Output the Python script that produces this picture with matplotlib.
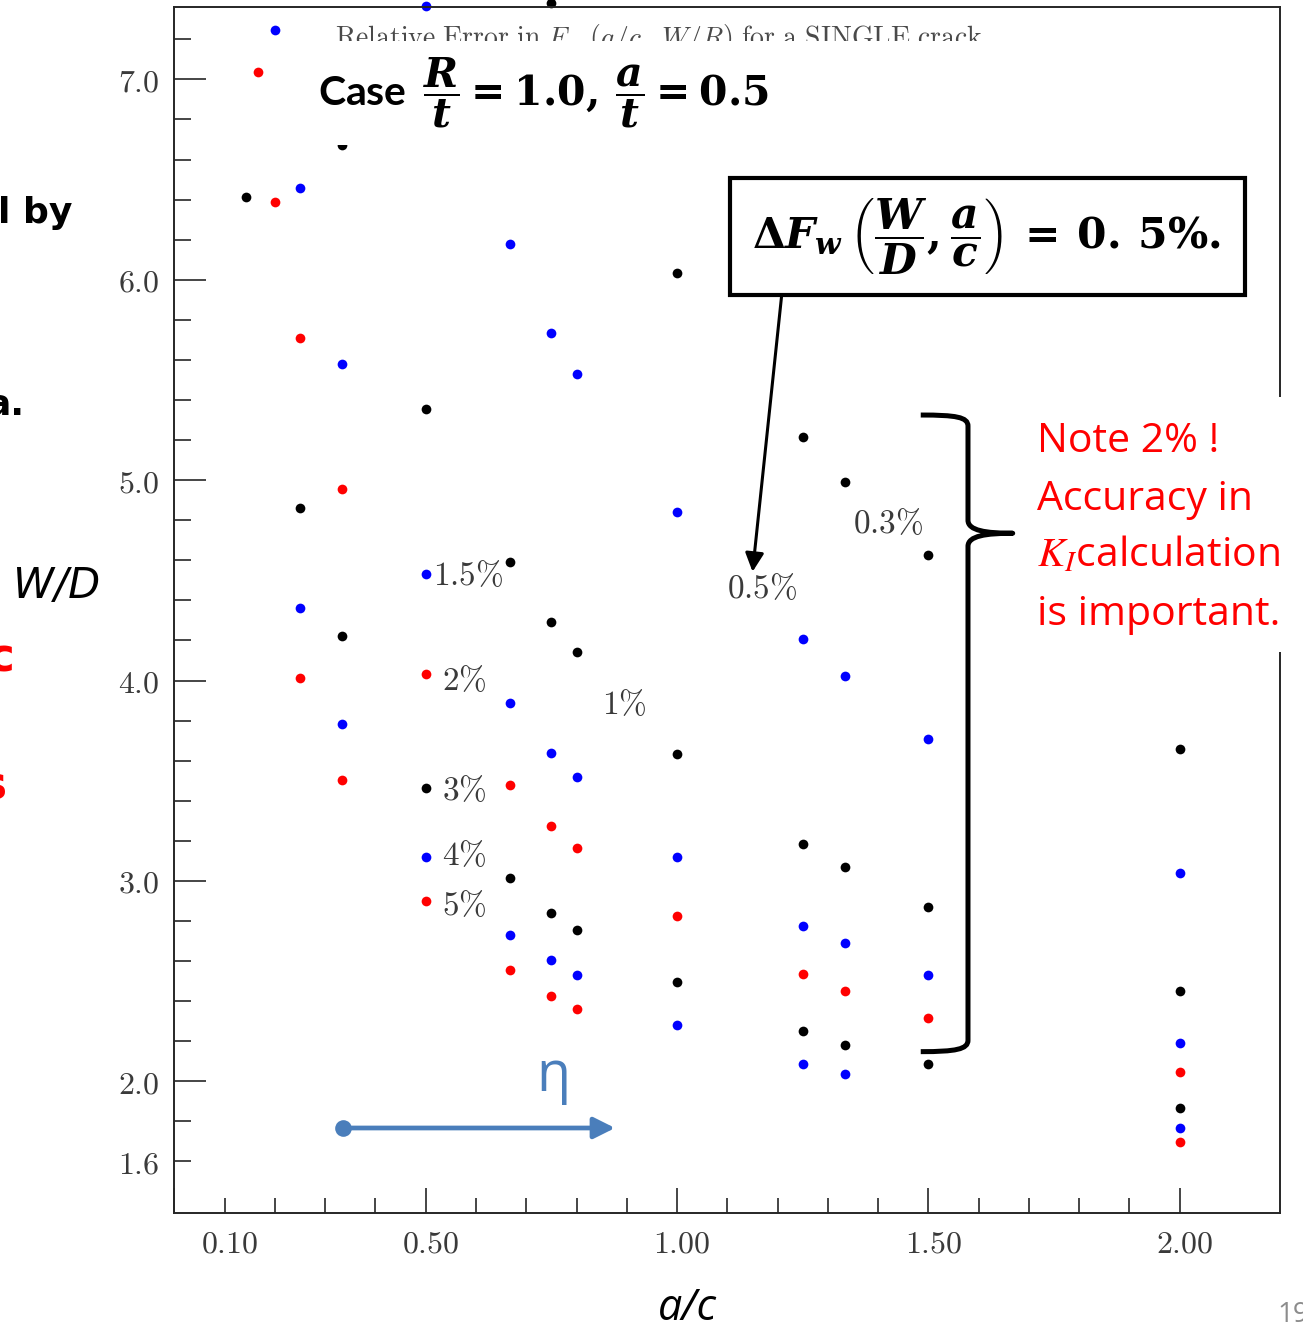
import matplotlib
matplotlib.use("Agg")
import matplotlib.pyplot as plt
import matplotlib.transforms as mtransforms
from matplotlib.patches import Rectangle, PathPatch
from matplotlib.path import Path
from matplotlib.ticker import FixedLocator, FixedFormatter

# ---------------- data ----------------
black_ac = [1/7, 1/4, 1/3, 1/3, 1/2, 1/2, 2/3, 2/3, 3/4, 3/4, 3/4, 4/5, 4/5,
            1, 1, 1, 5/4, 5/4, 5/4, 4/3, 4/3, 4/3, 3/2, 3/2, 3/2, 2, 2, 2]
black_wd = [6.414, 4.862, 6.672, 4.224, 5.353, 3.462, 4.590, 3.013, 7.382, 4.293, 2.841, 4.141, 2.756,
            6.032, 3.632, 2.494, 5.217, 3.183, 2.250, 4.989, 3.071, 2.181, 4.626, 2.868, 2.088, 3.657, 2.452, 1.868]

blue_ac = [1/5, 1/4, 1/4, 1/3, 1/3, 1/2, 1/2, 1/2, 2/3, 2/3, 2/3, 3/4, 3/4, 3/4, 4/5, 4/5, 4/5,
           1, 1, 1, 5/4, 5/4, 5/4, 4/3, 4/3, 4/3, 3/2, 3/2, 2, 2, 2]
blue_wd = [7.245, 6.456, 4.360, 5.581, 3.783, 7.367, 4.531, 3.121, 6.177, 3.886, 2.732, 5.735, 3.640, 2.605,
           5.531, 3.520, 2.530, 4.842, 3.121, 2.282, 4.209, 2.775, 2.088, 4.022, 2.689, 2.036, 3.707, 2.530,
           3.038, 2.190, 1.765]

red_ac = [1/6, 1/5, 1/4, 1/4, 1/3, 1/3, 1/2, 1/2, 2/3, 2/3, 3/4, 3/4, 4/5, 4/5, 1, 5/4, 4/3, 3/2, 2, 2]
red_wd = [7.035, 6.389, 5.709, 4.012, 4.954, 3.503, 4.031, 2.901, 3.479, 2.554, 3.274, 2.426, 3.163, 2.359,
          2.825, 2.537, 2.452, 2.316, 2.045, 1.697]

x_major = [0.0, 0.5, 1.0, 1.5, 2.0]
x_major_labels = ["", "$0.50$", "$1.00$", "$1.50$", "$2.00$"]
x_minor = [0.1, 0.2, 0.3, 0.4, 0.6, 0.7, 0.8, 0.9, 1.1, 1.2, 1.3, 1.4, 1.6, 1.7, 1.8, 1.9]
x_minor_labels = ["$0.10$"] + [""] * 15
y_major = [2, 3, 4, 5, 6, 7]
y_major_labels = ["$2.0$", "$3.0$", "$4.0$", "$5.0$", "$6.0$", "$7.0$"]
y_minor = [1.6, 1.8, 2.2, 2.4, 2.6, 2.8, 3.2, 3.4, 3.6, 3.8, 4.2, 4.4, 4.6, 4.8,
           5.2, 5.4, 5.6, 5.8, 6.2, 6.4, 6.6, 6.8, 7.2]
y_minor_labels = ["$1.6$"] + [""] * 22

pct_labels = ["1.5\\%", "2\\%", "3\\%", "4\\%", "5\\%", "1\\%", "0.5\\%", "0.3\\%"]
pct_x = [0.514, 0.533, 0.533, 0.533, 0.533, 0.851, 1.100, 1.350]
pct_y = [4.526, 4.002, 3.453, 3.128, 2.879, 3.878, 4.461, 4.785]

# ---------------- style ----------------
plt.rcParams["mathtext.fontset"] = "cm"
plt.rcParams["mathtext.rm"] = "DejaVu Serif:bold"
plt.rcParams["mathtext.it"] = "DejaVu Serif:italic:bold"
plt.rcParams["mathtext.bf"] = "DejaVu Serif:bold"
plt.rcParams["font.family"] = ["DejaVu Sans"]

GREY = "#3a3a3a"
SPINE = "#262626"
OFFICE_BLUE = "#4a7ebb"

fig = plt.figure(figsize=(13.03, 13.30), dpi=100)
ax = fig.add_axes([0.1339, 0.0877, 0.8485, 0.9070])
ax.set_xlim(0.0, 2.2)
ax.set_ylim(1.341, 7.361)

for s in ax.spines.values():
    s.set_linewidth(1.4)
    s.set_color(SPINE)

ax.xaxis.set_major_locator(FixedLocator(x_major))
ax.xaxis.set_major_formatter(FixedFormatter(x_major_labels))
ax.xaxis.set_minor_locator(FixedLocator(x_minor))
ax.xaxis.set_minor_formatter(FixedFormatter(x_minor_labels))
ax.yaxis.set_major_locator(FixedLocator(y_major))
ax.yaxis.set_major_formatter(FixedFormatter(y_major_labels))
ax.yaxis.set_minor_locator(FixedLocator(y_minor))
ax.yaxis.set_minor_formatter(FixedFormatter(y_minor_labels))

ax.tick_params(axis="both", which="both", direction="in", color=SPINE, width=1.2,
               labelsize=23, labelcolor=GREY, top=False, right=False)
ax.tick_params(axis="y", which="major", length=23, pad=11)
ax.tick_params(axis="y", which="minor", length=12, pad=11)
ax.tick_params(axis="x", which="major", length=18, pad=11)
ax.tick_params(axis="x", which="minor", length=11, pad=11)

shift = mtransforms.ScaledTranslation(5 / 100, 0, fig.dpi_scale_trans)
for tk in ax.xaxis.get_major_ticks() + ax.xaxis.get_minor_ticks():
    tk.label1.set_transform(tk.label1.get_transform() + shift)

# ---------------- points ----------------
ms = 7
ax.plot(black_ac, black_wd, "o", color="black", ms=ms, mec="none", ls="none", clip_on=False, zorder=2)
ax.plot(blue_ac, blue_wd, "o", color="#0000ff", ms=ms, mec="none", ls="none", clip_on=False, zorder=2)
ax.plot(red_ac, red_wd, "o", color="#ff0000", ms=ms, mec="none", ls="none", clip_on=False, zorder=2)

for lab, px, py in zip(pct_labels, pct_x, pct_y):
    ax.text(px, py, "$" + lab + "$", fontsize=24, color=GREY, ha="left", va="center", zorder=2.6)

# ---------------- title (partly hidden) ----------------
ax.text(0.3195, 7.166,
        r"$\mathrm{Relative\ Error\ in\ }F_{w}\ (a/c,\ W/R)\mathrm{\ for\ a\ SINGLE\ crack}$",
        fontsize=20, color="#4a4a4a", ha="left", va="baseline", zorder=2.6)
ax.add_patch(Rectangle((0.26, 6.672), 1.383, 0.519, facecolor="white", edgecolor="none",
                       zorder=3, clip_on=False))
ax.text(0.2857, 6.932, r"Case $\,\dfrac{R}{t}=1.0,\,\dfrac{a}{t}=0.5$",
        family="Lato", fontweight="bold", fontsize=29.5, color="black",
        ha="left", va="center", math_fontfamily="custom", zorder=4)

# ---------------- Delta F box + arrow ----------------
ax.add_patch(Rectangle((1.1056, 5.924), 1.0248, 0.583, facecolor="white", edgecolor="black",
                       linewidth=3, zorder=3.5, clip_on=False))
ax.text(1.615, 6.218, r"$\Delta F_w\,\left(\dfrac{W}{D},\dfrac{a}{c}\right)\,=\,0.\,5\%.$",
        fontsize=30.5, color="black", ha="center", va="center", math_fontfamily="custom", zorder=4)
ax.annotate("", xy=(1.1503, 4.543), xytext=(1.2083, 5.924),
            arrowprops=dict(arrowstyle="-|>", color="black", lw=2.2, mutation_scale=28,
                            shrinkA=0, shrinkB=0), zorder=4)

# ---------------- curly brace ----------------
verts = [(1.485, 5.325), (1.555, 5.325), (1.579, 5.315), (1.579, 5.27),
         (1.579, 4.80),
         (1.579, 4.748), (1.615, 4.735), (1.668, 4.735),
         (1.615, 4.735), (1.579, 4.722), (1.579, 4.67),
         (1.579, 2.205),
         (1.579, 2.16), (1.555, 2.148), (1.485, 2.148)]
codes = [Path.MOVETO, Path.CURVE4, Path.CURVE4, Path.CURVE4, Path.LINETO,
         Path.CURVE4, Path.CURVE4, Path.CURVE4, Path.CURVE4, Path.CURVE4, Path.CURVE4,
         Path.LINETO, Path.CURVE4, Path.CURVE4, Path.CURVE4]
ax.add_patch(PathPatch(Path(verts, codes), facecolor="none", edgecolor="black", lw=3.6,
                       capstyle="butt", joinstyle="round", zorder=4, clip_on=False))

# ---------------- red note ----------------
ax.add_patch(Rectangle((1.6926, 4.142), 0.57, 1.273, facecolor="white", edgecolor="none",
                       zorder=4, clip_on=False))
note_lines = ["Note 2% !", "Accuracy in", r"$K_I$calculation", "is important."]
note_y = [5.140, 4.850, 4.568, 4.278]
for t, yy in zip(note_lines, note_y):
    ax.text(1.7165, yy, t, family="Open Sans", fontsize=29.5, color="#ff0000",
            ha="left", va="baseline", math_fontfamily="stix", zorder=5, clip_on=False)

# ---------------- eta arrow ----------------
ax.annotate("", xy=(0.8767, 1.767), xytext=(0.3354, 1.767),
            arrowprops=dict(arrowstyle="-|>", color=OFFICE_BLUE, lw=3.4, mutation_scale=32,
                            shrinkA=0, shrinkB=0), zorder=4)
ax.plot([0.3354], [1.767], "o", color=OFFICE_BLUE, ms=12, mec="none", zorder=4)
ax.text(0.7532, 1.950, "η", family="Open Sans", fontsize=40, color=OFFICE_BLUE,
        ha="center", va="baseline", zorder=4)

# ---------------- figure-level texts ----------------
fig.text(687 / 1303, 1 - 1320 / 1330, "a/c", family="Open Sans", style="italic",
         fontsize=31, color="black", ha="center", va="baseline")
fig.text(1277 / 1303, 1 - 1322 / 1330, "19", family="Open Sans", fontsize=20,
         color="#8c8c8c", ha="left", va="baseline")
fig.text(72 / 1303, 1 - 223 / 1330, "l by", family="DejaVu Sans", fontweight="bold",
         fontsize=26, color="black", ha="right", va="baseline")
fig.text(24 / 1303, 1 - 415 / 1330, "a.", family="DejaVu Sans", fontweight="bold",
         fontsize=26, color="black", ha="right", va="baseline")
fig.text(13 / 1303, 1 - 598 / 1330, "W/D", family="DejaVu Sans", style="italic",
         fontsize=30, color="black", ha="left", va="baseline")
fig.text(15 / 1303, 1 - 672 / 1330, "c", family="DejaVu Sans", fontweight="bold",
         fontsize=34, color="#ff0000", ha="right", va="baseline")
fig.text(7 / 1303, 1 - 800 / 1330, "s", family="DejaVu Sans", fontweight="bold",
         fontsize=34, color="#ff0000", ha="right", va="baseline")

fig.savefig("out.png", dpi=100, facecolor="white")
